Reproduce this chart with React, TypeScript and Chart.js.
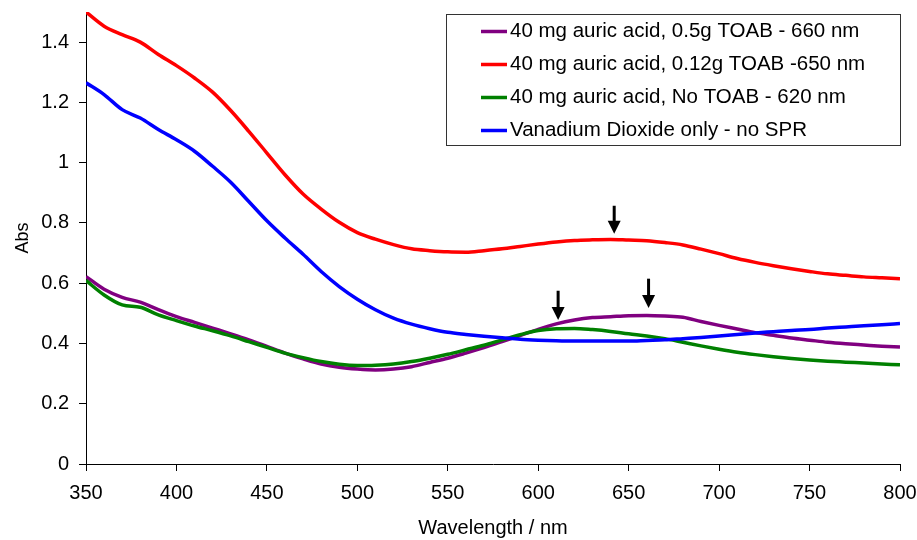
import React, { useEffect, useRef } from "react";
import { Chart, registerables } from "chart.js";

Chart.register(...registerables);

const wavelengths = [
  350, 360, 370, 380, 390, 400, 410, 420, 430, 440, 450, 460, 470, 480, 490, 500,
  510, 520, 530, 540, 550, 560, 570, 580, 590, 600, 610, 620, 630, 640, 650, 660,
  670, 680, 690, 700, 710, 720, 730, 740, 750, 760, 770, 780, 790, 800,
];

const toab05 = [
  0.622, 0.58, 0.553, 0.537, 0.512, 0.489, 0.47, 0.451, 0.432, 0.412, 0.39, 0.368,
  0.349, 0.332, 0.321, 0.315, 0.312, 0.315, 0.323, 0.337, 0.351, 0.368, 0.386, 0.406,
  0.426, 0.447, 0.465, 0.478, 0.486, 0.489, 0.492, 0.493, 0.491, 0.487, 0.473, 0.46,
  0.448, 0.436, 0.427, 0.418, 0.411, 0.404, 0.399, 0.395, 0.391, 0.388,
];

const toab012 = [
  1.5, 1.453, 1.425, 1.4, 1.359, 1.322, 1.281, 1.234, 1.173, 1.104, 1.032, 0.96,
  0.896, 0.846, 0.802, 0.768, 0.746, 0.728, 0.714, 0.708, 0.704, 0.703, 0.708, 0.714,
  0.722, 0.73, 0.737, 0.742, 0.744, 0.745, 0.743, 0.741, 0.735, 0.727, 0.713, 0.698,
  0.682, 0.669, 0.658, 0.648, 0.639, 0.631, 0.626, 0.621, 0.618, 0.615,
];

const noToab = [
  0.609, 0.561, 0.528, 0.52, 0.495, 0.476, 0.458, 0.442, 0.425, 0.406, 0.387, 0.368,
  0.353, 0.34, 0.331, 0.327, 0.328, 0.332, 0.34, 0.351, 0.364, 0.379, 0.394, 0.412,
  0.429, 0.443, 0.449, 0.45, 0.446, 0.44, 0.432, 0.425, 0.416, 0.404, 0.392, 0.381,
  0.371, 0.363, 0.356, 0.35, 0.345, 0.341, 0.338, 0.335, 0.332, 0.329,
];

const vo2Only = [
  1.265, 1.226, 1.176, 1.148, 1.11, 1.076, 1.038, 0.988, 0.935, 0.871, 0.807, 0.75,
  0.696, 0.639, 0.589, 0.547, 0.512, 0.484, 0.464, 0.449, 0.437, 0.43, 0.424, 0.419,
  0.414, 0.411, 0.409, 0.408, 0.408, 0.408, 0.408, 0.41, 0.412, 0.416, 0.42, 0.425,
  0.43, 0.435, 0.439, 0.443, 0.446, 0.451, 0.455, 0.459, 0.462, 0.466,
];

const seriesLabels = [
  "40 mg auric acid, 0.5g TOAB - 660 nm",
  "40 mg auric acid, 0.12g TOAB -650 nm",
  "40 mg auric acid, No TOAB - 620 nm",
  "Vanadium Dioxide only - no SPR",
];
const seriesColors = ["#800080", "#ff0000", "#008000", "#0000ff"];
const seriesValues = [toab05, toab012, noToab, vo2Only];
const seriesOrder = [4, 3, 2, 1];

const xTicks = [350, 400, 450, 500, 550, 600, 650, 700, 750, 800];
const yTicks = [0, 0.2, 0.4, 0.6, 0.8, 1, 1.2, 1.4];

const arrowWavelengths = [642, 611, 661];
const arrowTops = [0.857, 0.575, 0.615];
const arrowTips = [0.764, 0.478, 0.518];

const FONT = "'Liberation Sans', Arial, sans-serif";

const arrowPlugin = {
  id: "arrows",
  afterDatasetsDraw(chart: any) {
    const { ctx } = chart;
    const xs = chart.scales.x;
    const ys = chart.scales.y;
    ctx.save();
    ctx.fillStyle = "#000";
    ctx.strokeStyle = "#000";
    for (let i = 0; i < arrowWavelengths.length; i++) {
      const x = xs.getPixelForValue(arrowWavelengths[i]);
      const yTop = ys.getPixelForValue(arrowTops[i]);
      const yTip = ys.getPixelForValue(arrowTips[i]);
      const headH = 13;
      const headW = 6.5;
      ctx.lineWidth = 3;
      ctx.beginPath();
      ctx.moveTo(x, yTop);
      ctx.lineTo(x, yTip - headH + 1);
      ctx.stroke();
      ctx.beginPath();
      ctx.moveTo(x - headW, yTip - headH);
      ctx.lineTo(x + headW, yTip - headH);
      ctx.lineTo(x, yTip);
      ctx.closePath();
      ctx.fill();
    }
    ctx.restore();
  },
};

const legendPlugin = {
  id: "boxLegend",
  afterDraw(chart: any) {
    const { ctx } = chart;
    const left = 446.5;
    const top = 14.5;
    const width = 454;
    const height = 131;
    ctx.save();
    ctx.fillStyle = "#ffffff";
    ctx.fillRect(left, top, width, height);
    ctx.strokeStyle = "#333333";
    ctx.lineWidth = 1;
    ctx.strokeRect(left, top, width, height);
    ctx.font = `20.5px ${FONT}`;
    ctx.textBaseline = "middle";
    ctx.textAlign = "left";
    chart.data.datasets.forEach((ds: any, i: number) => {
      const y = 31.5 + i * 33;
      ctx.strokeStyle = ds.borderColor;
      ctx.lineWidth = 3.5;
      ctx.beginPath();
      ctx.moveTo(481, y);
      ctx.lineTo(507, y);
      ctx.stroke();
      ctx.fillStyle = "#000";
      ctx.fillText(ds.label, 510, y);
    });
    ctx.restore();
  },
};

export default function App() {
  const canvasRef = useRef<HTMLCanvasElement | null>(null);

  useEffect(() => {
    const canvas = canvasRef.current;
    if (!canvas) return;
    const chart = new Chart(canvas, {
      type: "line",
      data: {
        labels: wavelengths,
        datasets: seriesValues.map((vals, i) => ({
          label: seriesLabels[i],
          data: wavelengths.map((w, j) => ({ x: w, y: vals[j] })),
          borderColor: seriesColors[i],
          backgroundColor: seriesColors[i],
          borderWidth: 3.5,
          pointRadius: 0,
          fill: false,
          cubicInterpolationMode: "monotone" as const,
          order: seriesOrder[i],
        })),
      },
      options: {
        animation: false,
        responsive: false,
        devicePixelRatio: 1,
        layout: { padding: { top: 12, right: 17, left: 0, bottom: 0 } },
        plugins: {
          legend: { display: false },
          tooltip: { enabled: false },
        },
        scales: {
          x: {
            type: "linear",
            min: 350,
            max: 800,
            afterFit: (scale: any) => {
              scale.height = 76;
              scale.paddingLeft = 0;
              scale.paddingRight = 0;
            },
            afterBuildTicks: (scale: any) => {
              scale.ticks = xTicks.map((v) => ({ value: v }));
            },
            ticks: {
              color: "#000",
              font: { family: FONT, size: 20 },
              padding: 10,
              maxRotation: 0,
              autoSkip: false,
              callback: (v: any) => String(v),
            },
            grid: {
              drawOnChartArea: false,
              drawTicks: true,
              tickLength: 7,
              color: "#000",
            },
            border: { display: true, color: "#000", width: 1 },
            title: {
              display: true,
              text: "Wavelength / nm",
              color: "#000",
              font: { family: FONT, size: 20 },
              padding: { top: 0, bottom: 0 },
            },
          },
          y: {
            type: "linear",
            min: 0,
            max: 1.5,
            afterFit: (scale: any) => {
              scale.width = 86;
              scale.paddingTop = 0;
              scale.paddingBottom = 0;
            },
            afterBuildTicks: (scale: any) => {
              scale.ticks = yTicks.map((v) => ({ value: v }));
            },
            ticks: {
              color: "#000",
              font: { family: FONT, size: 20 },
              padding: 10,
              autoSkip: false,
              callback: (v: any) => String(Math.round(Number(v) * 10) / 10),
            },
            grid: {
              drawOnChartArea: false,
              drawTicks: true,
              tickLength: 7,
              color: "#000",
            },
            border: { display: true, color: "#000", width: 1 },
            title: {
              display: true,
              text: "Abs",
              color: "#000",
              font: { family: FONT, size: 18 },
              padding: { top: 12, bottom: 0 },
            },
          },
        },
      },
      plugins: [arrowPlugin, legendPlugin],
    });
    return () => chart.destroy();
  }, []);

  return (
    <div style={{ position: "absolute", left: 0, top: 0, width: 917, height: 540, background: "#fff" }}>
      <canvas ref={canvasRef} width={917} height={540} style={{ display: "block" }} />
    </div>
  );
}
